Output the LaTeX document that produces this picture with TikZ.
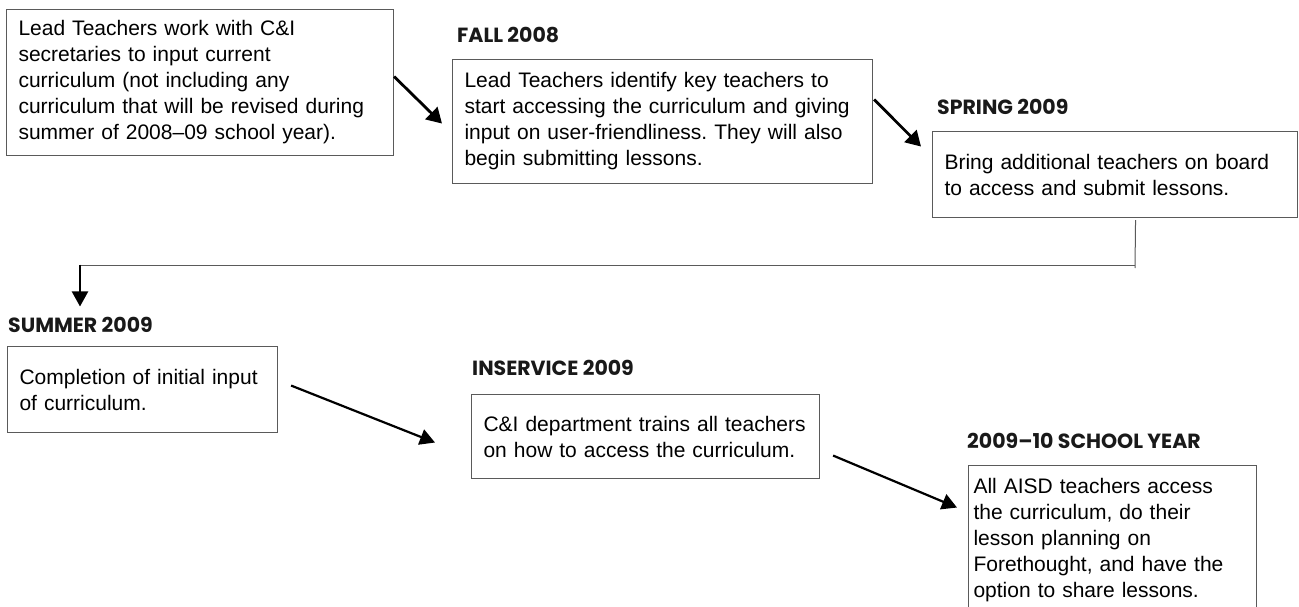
\documentclass[tikz,border=0pt]{standalone}
\usepackage{fontspec}
\setmainfont{Liberation Sans}
\newfontfamily\headfont{Poppins}
\usepackage{tikz}
\usetikzlibrary{arrows.meta,positioning,calc}
\definecolor{frame}{HTML}{5A5A5A}
\frenchspacing

\begin{document}
\begin{tikzpicture}[x=1pt, y=-1pt,
  stepbox/.style={rectangle, draw=frame, line width=1.1pt, anchor=north west, align=left,
    inner xsep=12pt, inner ysep=0pt, font=\fontsize{21}{26}\selectfont},
  season/.style={anchor=base west, inner sep=0pt, font=\headfont\bfseries\fontsize{20.5}{22}\selectfont, text=black!90},
  arr/.style={-{Triangle[length=15pt, width=17pt]}, line width=2.8pt},
  arrthin/.style={-{Triangle[length=15pt, width=16pt]}, line width=2.2pt},
  link/.style={draw=frame, line width=1pt}
]
  \clip (0,0) rectangle (1299,607);

  % boxes
  \node[stepbox, text width=363pt, minimum height=146pt] (s1) at (6,9)
    {Lead Teachers work with C\&I\\ secretaries to input current\\ curriculum (not including any\\ curriculum that will be revised during\\ summer of 2008--09 school year).};
  \node[stepbox, text width=396pt, minimum height=124pt] (s2) at (452,59)
    {Lead Teachers identify key teachers to\\ start accessing the curriculum and giving\\ input on user-friendliness. They will also\\ begin submitting lessons.};
  \node[stepbox, text width=341pt, minimum height=86pt] (s3) at (932,131)
    {Bring additional teachers on board\\ to access and submit lessons.};
  \node[stepbox, text width=246pt, minimum height=86pt] (s4) at (7,346)
    {Completion of initial input\\ of curriculum.};
  \node[stepbox, text width=324pt, minimum height=84pt] (s5) at (471,394)
    {C\&I department trains all teachers\\ on how to access the curriculum.};
  \node[stepbox, inner xsep=5pt, text width=278pt, minimum height=150pt] (s6) at (968,465)
    {All AISD teachers access\\ the curriculum, do their\\ lesson planning on\\ Forethought, and have the\\ option to share lessons.};

  % headings
  \node[season] (h2) at (457,43) {FALL 2008};
  \node[season] (h3) at (937,115) {SPRING 2009};
  \node[season] (h4) at (8,332) {SUMMER 2009};
  \node[season] (h5) at (472,375) {INSERVICE 2009};
  \node[season] (h6) at (967,448) {2009\textendash 10 SCHOOL YEAR};

  % arrows
  \draw[arr] ([yshift=6pt]s1.east) -- ([xshift=-10pt,yshift=-2pt]s2.west);
  \draw[arr] ([xshift=1pt,yshift=22pt]s2.east) -- ([xshift=-11pt,yshift=28pt]s3.west);

  \coordinate (turn) at (1135,265);
  \coordinate (drop) at (80,265);
  \draw[link] ([xshift=20.5pt,yshift=-2pt]s3.south) -- ([yshift=-3pt]turn);
  \draw[link] (turn) -- (drop);
  \draw[arrthin] ([yshift=0.5pt]drop) -- ([yshift=10pt]drop |- h4.north);

  \draw[arrthin] ([xshift=13pt,yshift=4pt]s4.east) -- ([xshift=-36pt,yshift=-6pt]s5.west);
  \draw[arrthin] ([xshift=13pt,yshift=-19pt]s5.east) -- ([xshift=-11pt,yshift=33pt]s6.west);
\end{tikzpicture}
\end{document}
